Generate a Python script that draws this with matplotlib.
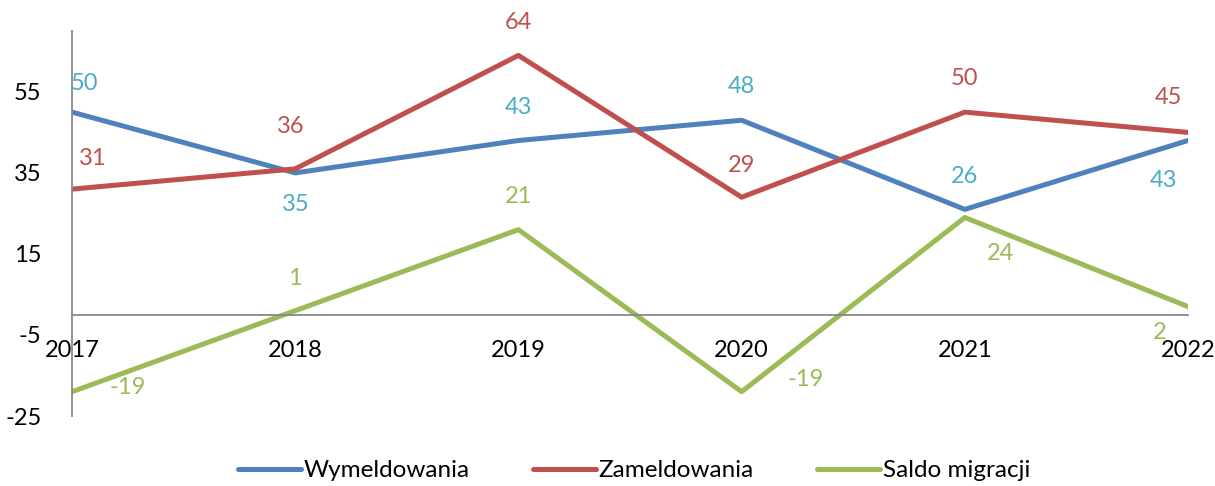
import matplotlib

matplotlib.use("Agg")
import matplotlib.pyplot as plt  # noqa: E402

years = ["2017", "2018", "2019", "2020", "2021", "2022"]
wymeldowania = [50, 35, 43, 48, 26, 43]
zameldowania = [31, 36, 64, 29, 50, 45]
saldo = [-19, 1, 21, -19, 24, 2]

# label offsets in pixels (dx, dy) per point
off_wym = [(12, 29), (0, -32), (0, 33), (0, 34), (0, 33), (-25, -40)]
off_zam = [(21, 31), (-5, 42), (0, 33), (0, 32), (0, 34), (-20, 35)]
off_sal = [(56, 4), (0, 32), (0, 33), (64, 12), (36, -36), (-28, -26)]

plt.rcParams["font.family"] = ["Lato", "DejaVu Sans"]
plt.rcParams["axes.unicode_minus"] = False

fig = plt.figure(figsize=(12.15, 4.86), dpi=100)
ax = fig.add_axes([0.0593, 0.144, 0.9185, 0.792])
x = list(range(len(years)))

series = [
    ("Wymeldowania", wymeldowania, "#4F81BD", "#4BACC6", off_wym),
    ("Zameldowania", zameldowania, "#C0504D", "#C0504D", off_zam),
    ("Saldo migracji", saldo, "#9BBB59", "#9BBB59", off_sal),
]
for name, vals, col, lcol, offs in series:
    ax.plot(x, vals, color=col, lw=3.6, label=name, solid_capstyle="round",
            solid_joinstyle="round")
    for xi, v, (dx, dy) in zip(x, vals, offs):
        ax.annotate(str(v), (xi, v), xytext=(dx, dy), textcoords="offset pixels",
                    ha="center", va="center", color=lcol, fontsize=17)

ax.set_xlim(0, len(years) - 1)
ax.set_ylim(-25, 70)
ax.set_yticks([-25, -5, 15, 35, 55])
ax.set_xticks(x)
ax.set_xticklabels(years)
ax.spines["top"].set_visible(False)
ax.spines["right"].set_visible(False)
ax.spines["bottom"].set_position(("data", 0))
ax.spines["bottom"].set_color("#888888")
ax.spines["left"].set_color("#888888")
ax.spines["bottom"].set_linewidth(1.3)
ax.spines["left"].set_linewidth(1.3)
ax.tick_params(axis="both", length=0, labelsize=17)
ax.tick_params(axis="y", pad=22)
ax.tick_params(axis="x", pad=18)

fig.legend(loc="lower center", bbox_to_anchor=(0.522, -0.035), ncol=3,
           frameon=False, fontsize=17.5, handlelength=2.6, handletextpad=0.1,
           columnspacing=2.6)

fig.savefig("out.png")
plt.close(fig)
